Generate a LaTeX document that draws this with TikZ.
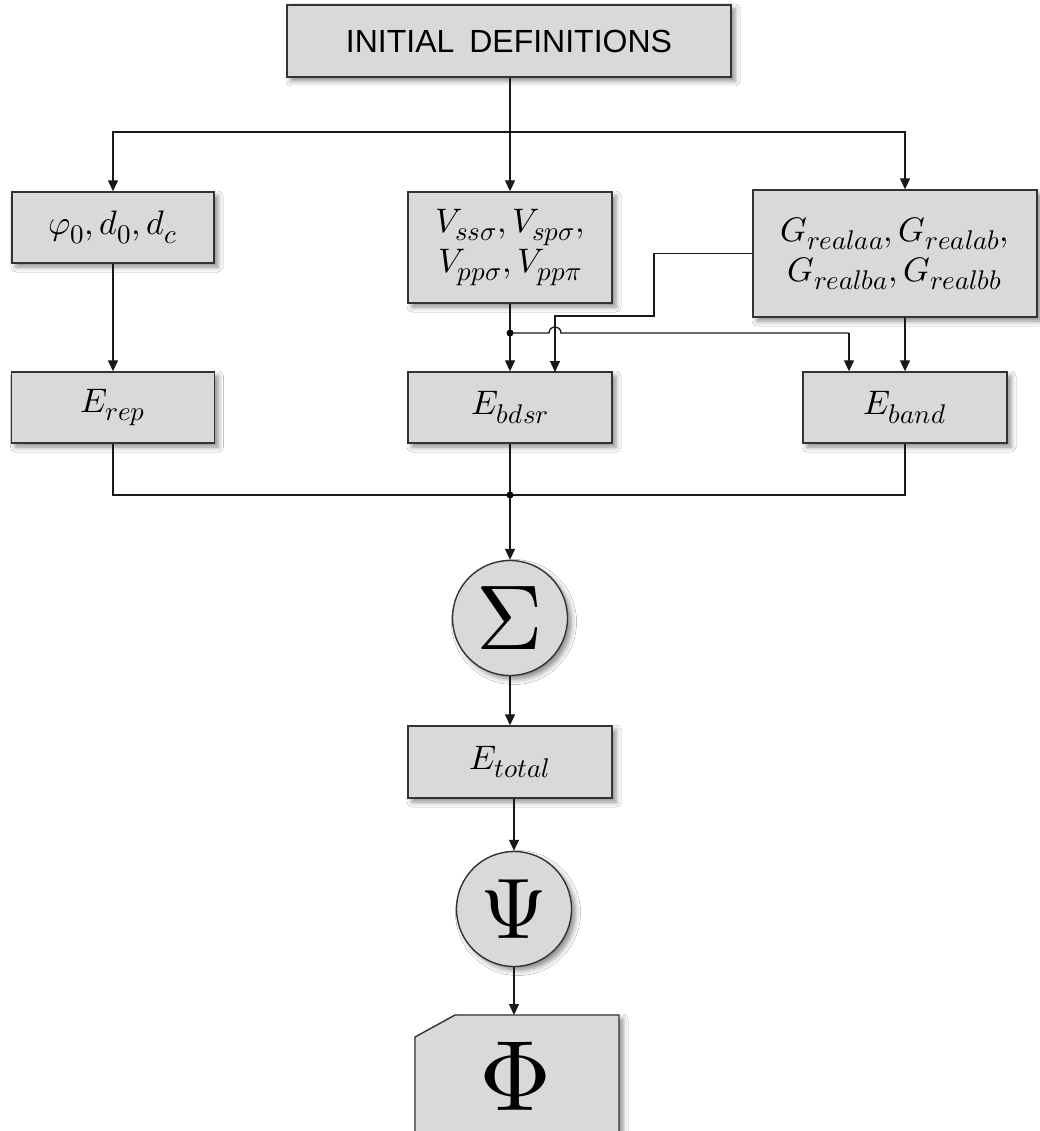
\documentclass[tikz,border=0pt]{standalone}
\usepackage{fontspec}
\usepackage{unicode-math}
\setmathfont{Latin Modern Math}
\DeclareMathSizes{34}{34}{27}{20}
\newfontfamily\arialfont{Liberation Sans}
\usetikzlibrary{shadows.blur,arrows.meta,calc}
\begin{document}
\begin{tikzpicture}[x=1pt,y=-1pt,
  box/.style={draw=black!80, line width=1.4pt, fill=black!15,
    blur shadow={shadow xshift=4pt,shadow yshift=-4pt,shadow blur radius=5pt,shadow opacity=45},
    inner sep=0pt, align=center, font=\fontsize{34}{40}\selectfont},
  rbox/.style={box, rectangle},
  circ/.style={box, circle, minimum size=115pt},
  arr/.style={-{Triangle[length=11pt,width=10pt]}, line width=1.3pt, draw=black!90},
  ln/.style={line width=1.3pt, draw=black!90},
  jdot/.style={circle, fill=black, inner sep=0pt, minimum size=7pt}]
\useasboundingbox (0,0) rectangle (1039,1131);
\fill[white] (0,0) rectangle (1039,1131);

% nodes
\node[rbox, minimum width=444pt, minimum height=72pt, font=\arialfont\fontsize{32}{36}\selectfont] (init) at (509,41) {INITIAL\hspace{6pt} DEFINITIONS};
\node[rbox, minimum width=202pt, minimum height=71pt] (phi0) at (113,227.5) {$\varphi_0, d_0, d_c$};
\node[rbox, minimum width=204pt, minimum height=111pt] (V) at (510,247.5) {$V_{ss\sigma}, V_{sp\sigma},$\\$V_{pp\sigma}, V_{pp\pi}$};
\node[rbox, minimum width=284pt, minimum height=127pt] (G) at (895,253.5) {$G_{realaa}, G_{realab},$\\$G_{realba}, G_{realbb}$};
\node[rbox, minimum width=203pt, minimum height=71pt] (Erep) at (113,407.5) {$E_{rep}$};
\node[rbox, minimum width=204pt, minimum height=71pt] (Ebdsr) at (510,407.5) {$E_{bdsr}$};
\node[rbox, minimum width=204pt, minimum height=71pt] (Eband) at (905,407.5) {$E_{band}$};
\node[circ, font=\fontsize{92}{92}\selectfont] (sigma) at (510,618) {$\Sigma$};
\node[rbox, minimum width=204pt, minimum height=72pt] (Etotal) at (510,762) {$E_{total}$};
\node[circ, font=\fontsize{86}{86}\selectfont] (psi) at (514,909) {$\Psi$};
\draw[box] (455,1015) -- (619,1015) -- (619,1150) -- (415,1150) -- (415,1037) -- cycle;
\node[font=\fontsize{100}{100}\selectfont, inner sep=0pt] (phi) at (516,1076) {$\Phi$};
\coordinate (phitop) at (514,1015);

% connectors
\coordinate (split) at (510,132);
\draw[ln] (split |- init.south) -- (split);
\draw[arr] (split) -- (V.north);
\draw[arr] (split) -| (phi0.north);
\draw[arr] (split) -| (Eband.center |- G.north);
\draw[arr] (phi0.south) -- (Erep.north);

\coordinate (j1) at (510,333);
\coordinate (k) at (849,333);
\draw[arr] (V.south) -- (Ebdsr.north);
\draw[ln] (j1) -- (549,333) arc[start angle=180,end angle=360,radius=6] -- (k);
\draw[arr] (k) -- (k |- Eband.north);
\draw[arr] (G.west) -- (654,253.5) -- (654,316) -- (555,316) -- (555,372);
\draw[arr] (Eband.center |- G.south) -- (Eband.north);

\coordinate (j2) at (510,495);
\draw[ln] (Erep.south) |- (j2);
\draw[ln] (Eband.south) |- (j2);
\draw[ln] (Ebdsr.south) -- (j2);
\draw[arr] (j2) -- (sigma.north);
\draw[arr] (sigma.south) -- (Etotal.north);
\draw[arr] (Etotal.south -| psi.north) -- (psi.north);
\draw[arr] (psi.south) -- (phitop);

\node[jdot] at (j1) {};
\node[jdot] at (j2) {};
\end{tikzpicture}
\end{document}
